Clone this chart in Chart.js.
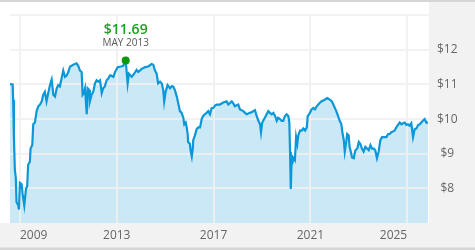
<!DOCTYPE html>
<html><head><meta charset="utf-8">
<script src="https://cdn.jsdelivr.net/npm/chart.js@4/dist/chart.umd.min.js"></script>
<style>html,body{margin:0;padding:0;background:#fff;}#wrap{width:475px;height:250px;}</style>
</head><body><div id="wrap"><canvas id="c" width="475" height="250"></canvas></div>
<script>
const dates = [
2008.59,2008.70,2008.72,2008.75,2008.79,2008.83,2008.86,2008.93,2008.96,2009.00,
2009.07,2009.11,2009.18,2009.25,2009.30,2009.34,2009.41,2009.44,2009.51,2009.55,
2009.62,2009.69,2009.76,2009.83,2009.90,2009.96,2010.03,2010.10,2010.17,2010.24,
2010.31,2010.38,2010.45,2010.52,2010.58,2010.65,2010.72,2010.79,2010.86,2010.93,
2011.00,2011.07,2011.14,2011.20,2011.27,2011.34,2011.41,2011.48,2011.55,2011.59,
2011.64,2011.69,2011.73,2011.76,2011.80,2011.86,2011.89,2011.96,2012.03,2012.10,
2012.17,2012.24,2012.31,2012.38,2012.44,2012.51,2012.58,2012.65,2012.72,2012.76,
2012.86,2012.93,2013.04,2013.17,2013.27,2013.37,2013.41,2013.45,2013.50,2013.62,
2013.72,2013.82,2013.89,2014.03,2014.17,2014.30,2014.44,2014.51,2014.58,2014.65,
2014.71,2014.79,2014.86,2014.92,2014.96,2015.02,2015.10,2015.20,2015.27,2015.33,
2015.40,2015.48,2015.54,2015.61,2015.68,2015.75,2015.79,2015.85,2015.89,2015.93,
2015.95,2016.02,2016.05,2016.10,2016.14,2016.16,2016.23,2016.30,2016.37,2016.44,
2016.51,2016.57,2016.64,2016.71,2016.78,2016.85,2016.92,2016.99,2017.06,2017.13,
2017.26,2017.40,2017.54,2017.61,2017.75,2017.81,2017.88,2018.02,2018.09,2018.23,
2018.30,2018.37,2018.50,2018.57,2018.71,2018.78,2018.85,2018.92,2018.96,2019.01,
2019.12,2019.26,2019.33,2019.40,2019.47,2019.54,2019.61,2019.67,2019.74,2019.81,
2019.88,2019.95,2020.02,2020.09,2020.13,2020.16,2020.19,2020.23,2020.27,2020.32,
2020.36,2020.41,2020.46,2020.50,2020.57,2020.64,2020.71,2020.78,2020.85,2020.89,
2020.95,2021.05,2021.12,2021.19,2021.26,2021.40,2021.45,2021.59,2021.70,2021.80,
2021.89,2021.98,2022.07,2022.14,2022.21,2022.28,2022.32,2022.38,2022.42,2022.48,
2022.52,2022.58,2022.62,2022.67,2022.72,2022.79,2022.86,2022.94,2023.00,2023.06,
2023.13,2023.20,2023.27,2023.34,2023.41,2023.48,2023.55,2023.62,2023.68,2023.75,
2023.82,2023.89,2023.96,2024.07,2024.14,2024.21,2024.28,2024.34,2024.41,2024.48,
2024.55,2024.62,2024.69,2024.76,2024.83,2024.90,2024.96,2025.03,2025.10,2025.17,
2025.24,2025.31,2025.38,2025.45,2025.52,2025.58,2025.65,2025.72,2025.79,2025.86
];
const navValues = [
11.01,11.00,10.56,9.53,8.54,8.30,7.60,7.51,7.39,8.16,
8.12,7.84,7.51,7.98,8.07,8.68,8.77,9.15,9.25,9.85,
9.90,10.23,10.37,10.42,10.51,10.70,10.79,10.51,10.75,10.98,
11.14,10.70,10.65,10.89,10.98,10.94,11.17,11.40,11.22,11.26,
11.36,11.52,11.54,11.57,11.59,11.61,11.54,11.40,11.36,10.70,
10.75,10.89,10.46,10.14,10.89,10.84,10.51,10.70,10.79,11.03,
11.12,11.08,11.12,10.75,10.89,10.95,11.12,11.17,11.26,11.26,
11.22,11.36,11.50,11.52,11.54,11.69,11.36,11.03,11.31,11.22,
11.31,11.42,11.36,11.45,11.50,11.52,11.59,11.57,11.40,11.31,
11.03,11.08,11.03,10.84,10.51,10.79,10.98,10.89,10.95,10.94,
10.84,10.65,10.46,10.23,10.18,10.04,9.85,9.90,9.76,9.57,
9.34,9.29,9.10,8.92,9.15,9.39,9.53,9.71,9.76,9.76,
10.00,10.09,10.14,10.18,10.23,10.14,10.32,10.32,10.39,10.42,
10.42,10.48,10.51,10.42,10.51,10.46,10.37,10.42,10.28,10.23,
10.18,10.14,10.18,10.20,10.26,10.09,9.95,9.85,9.62,9.90,
10.04,10.23,10.18,10.14,10.18,10.09,9.95,10.04,10.00,9.95,
9.95,10.09,10.14,10.09,9.90,9.06,7.98,8.96,8.77,8.87,
8.82,9.48,9.29,9.53,9.67,9.67,9.73,9.67,9.76,10.09,
10.14,10.28,10.32,10.28,10.37,10.48,10.51,10.56,10.61,10.56,
10.51,10.37,10.23,10.09,9.95,9.85,9.62,9.39,9.06,9.34,
9.57,9.53,9.20,9.06,8.89,8.87,9.10,9.15,9.34,9.29,
9.15,9.06,9.20,9.15,9.10,9.25,9.15,9.15,9.10,8.87,
9.06,9.39,9.48,9.48,9.48,9.57,9.57,9.62,9.64,9.67,
9.76,9.83,9.90,9.85,9.88,9.90,9.83,9.85,9.81,9.88,
9.48,9.71,9.73,9.83,9.85,9.90,9.95,10.00,9.90,9.90
];
const xTickYears = [2009, 2013, 2017, 2021, 2025];
const yTickValues = [8, 9, 10, 11, 12];
const yGridValues = [8, 9, 10, 11, 12, 13];
const xRange = [2008.59, 2025.90];
const yRange = [7, 13];
const monthNames = ['JAN','FEB','MAR','APR','MAY','JUN','JUL','AUG','SEP','OCT','NOV','DEC'];

const FONT = '"Open Sans", "Noto Sans", sans-serif';
const points = dates.map((d, i) => ({ x: d, y: navValues[i] }));

const panels = {
  id: 'panels',
  beforeDraw(chart) {
    const { ctx, width: W, height: H, chartArea: ca } = chart;
    ctx.save();
    ctx.fillStyle = '#ffffff'; ctx.fillRect(0, 0, W, H);
    ctx.fillStyle = '#f2f2f2';
    ctx.fillRect(ca.right, 2, W - ca.right, H - 2);
    ctx.fillRect(0, ca.bottom, W, H - ca.bottom);
    ctx.fillStyle = '#d6d6d6';
    ctx.fillRect(0, 0, W, 2);
    ctx.fillRect(0, H - 2.5, W, 2.5);
    ctx.restore();
  }
};

const gridOverFill = {
  id: 'gridOverFill',
  afterDatasetDraw(chart, args) {
    if (args.index !== 1) return;
    const { ctx, chartArea: ca, scales } = chart;
    ctx.save();
    ctx.strokeStyle = 'rgba(240,240,240,0.85)';
    ctx.lineWidth = 2;
    ctx.beginPath();
    yGridValues.forEach(v => {
      const py = Math.round(scales.y.getPixelForValue(v));
      ctx.moveTo(ca.left, py); ctx.lineTo(ca.right, py);
    });
    xTickYears.forEach(v => {
      const px = Math.round(scales.x.getPixelForValue(v));
      ctx.moveTo(px, scales.y.getPixelForValue(yGridValues[yGridValues.length - 1])); ctx.lineTo(px, ca.bottom);
    });
    ctx.stroke();
    ctx.restore();
  }
};

const peakLabel = {
  id: 'peakLabel',
  afterDatasetsDraw(chart) {
    const { ctx } = chart;
    let idx = 0;
    navValues.forEach((v, i) => { if (v > navValues[idx]) idx = i; });
    const el = chart.getDatasetMeta(0).data[idx];
    const d = dates[idx];
    const yr = Math.floor(d);
    const mon = monthNames[Math.min(11, Math.floor((d - yr) * 12))];
    ctx.save();
    ctx.fillStyle = '#0b980b';
    ctx.beginPath(); ctx.arc(el.x, el.y, 4, 0, Math.PI * 2); ctx.fill();
    ctx.textAlign = 'center'; ctx.textBaseline = 'middle';
    ctx.fillStyle = '#1f9f1f';
    ctx.font = '600 14px ' + FONT;
    ctx.fillText('$' + navValues[idx].toFixed(2), el.x, el.y - 31);
    ctx.fillStyle = '#595959';
    ctx.font = '10px ' + FONT;
    ctx.fillText(mon + ' ' + yr, el.x, el.y - 17);
    ctx.restore();
  }
};

new Chart(document.getElementById('c'), {
  type: 'line',
  data: {
    datasets: [
      { data: points, borderColor: '#0c97d8', borderWidth: 2.2, pointRadius: 0, fill: false, tension: 0 },
      { data: points, borderWidth: 0, borderColor: 'rgba(0,0,0,0)', backgroundColor: '#cbe8f7', pointRadius: 0, fill: 'start', tension: 0 }
    ]
  },
  options: {
    responsive: false,
    animation: false,
    layout: { padding: { left: 10, top: 10, right: 0, bottom: 0 } },
    plugins: { legend: { display: false }, tooltip: { enabled: false } },
    scales: {
      x: {
        type: 'linear', position: 'bottom', min: xRange[0], max: xRange[1],
        grid: { display: false, drawTicks: false }, border: { display: false },
        afterBuildTicks: s => { s.ticks = xTickYears.map(v => ({ value: v })); },
        afterFit: s => { s.height = 27; },
        ticks: { callback: v => String(v), align: 'inner', maxRotation: 0, autoSkip: false,
                 color: '#666666', font: { family: FONT, size: 12 }, padding: 5 }
      },
      y: {
        type: 'linear', position: 'right', min: yRange[0], max: yRange[1],
        grid: { display: false, drawTicks: false }, border: { display: false },
        afterBuildTicks: s => { s.ticks = yTickValues.map(v => ({ value: v })); },
        afterFit: s => { s.width = 46; },
        ticks: { callback: v => '$' + v, crossAlign: 'center', padding: 8,
                 color: '#666666', font: { family: FONT, size: 12 } }
      }
    }
  },
  plugins: [panels, gridOverFill, peakLabel]
});
</script></body></html>
